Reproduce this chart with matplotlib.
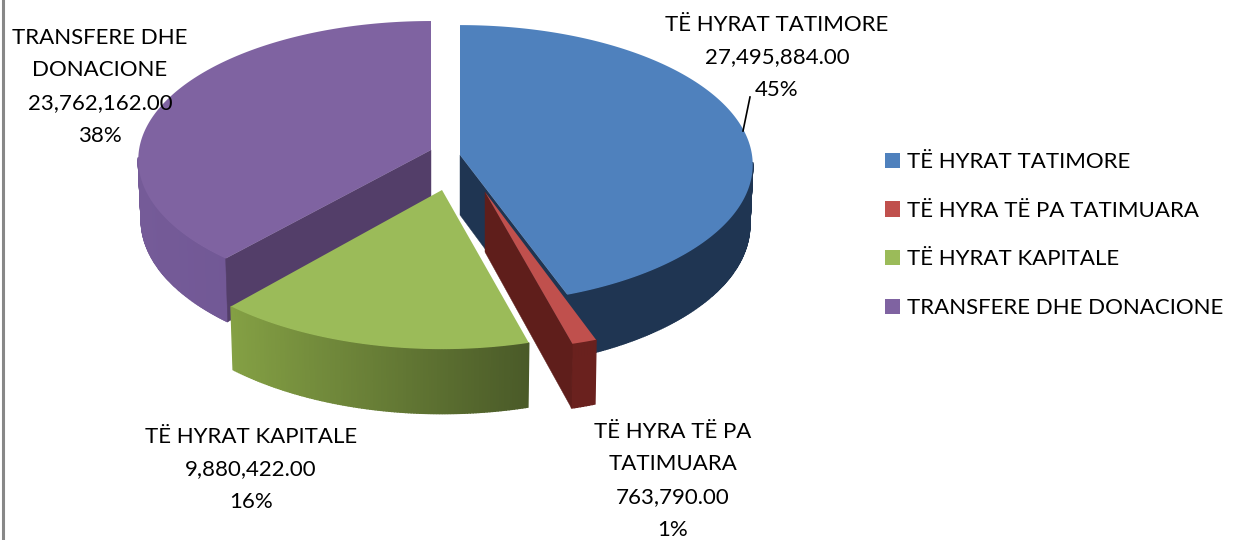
import numpy as np
import matplotlib
matplotlib.use("Agg")
import matplotlib.pyplot as plt
from matplotlib.colors import to_rgb
from matplotlib.patches import Patch

# --- DATA ---
categories = ["TË HYRAT TATIMORE", "TË HYRA TË PA TATIMUARA", "TË HYRAT KAPITALE", "TRANSFERE DHE DONACIONE"]
values = [27495884.00, 763790.00, 9880422.00, 23762162.00]
percent_labels = ["45%", "1%", "16%", "38%"]
wrapped_names = ["TË HYRAT TATIMORE", "TË HYRA TË PA\nTATIMUARA", "TË HYRAT KAPITALE", "TRANSFERE DHE\nDONACIONE"]

# --- LOOK OF THE SLICES (pixel space of the picture) ---
# apex x, apex y, radius x, radius y
geometry = [(460, 155, 292, 139), (485, 192, 302, 147), (442, 190, 300, 148), (431, 150, 292, 138)]
top_colors = ["#4f81bd", "#c0504d", "#9bbb59", "#7f63a1"]
rim_left = ["#1f3552", "#6a211e", "#84a044", "#755b98"]
rim_right = ["#1f3552", "#6a211e", "#4a5a28", "#6a5290"]
# which end of the slice shows its cut face, and in which colour
face_colors = ["#1f3552", "#5f1e1b", None, "#533e69"]
face_at_end = [True, True, False, False]
label_centers = [(777, 25), (673, 432), (251, 437), (100, 38)]
LINE_STEP = 32.5
FONT = "Lato"
FONT_SIZE = 16

PERSP = 0.07   # the front of the disc is nearer to the viewer
DEPTH = 60     # thickness of the pie


def project(theta, slice_idx):
    # theta is in degrees, clockwise from 12 o'clock
    cx, cy, a, b = geometry[slice_idx]
    rad = np.radians(theta)
    u, v = np.sin(rad), -np.cos(rad)
    s = 1.0 / (1.0 - PERSP * v)
    return cx + a * u * s, cy + b * v * s, s


def lower(x, y, s, slice_idx):
    cx = geometry[slice_idx][0]
    return cx + (x - cx) * 0.99, y + DEPTH * s


def draw_slice(ax, idx, start, end):
    cx, cy = geometry[idx][:2]
    thetas = np.linspace(start, end, max(int(end - start), 2) * 2 + 1)
    xs, ys, ss = project(thetas, idx)

    # cut face of the slice (only when it looks at us)
    if face_colors[idx] is not None:
        k = -1 if face_at_end[idx] else 0
        bx, by = lower(xs[k], ys[k], ss[k], idx)
        ax.fill([cx, xs[k], bx, cx], [cy, ys[k], by, cy + DEPTH], color=face_colors[idx], lw=0.3, zorder=idx_order[idx] + 0.2)

    # outer rim, shaded from left to right; thick edges hide the seams
    x_lo, x_hi = xs.min(), xs.max()
    c_left, c_right = np.array(to_rgb(rim_left[idx])), np.array(to_rgb(rim_right[idx]))
    bxs, bys = lower(xs, ys, ss, idx)
    for i in range(len(thetas) - 1):
        # the back half of the rim can't be seen
        if ys[i] < cy + 8 and ys[i + 1] < cy + 8:
            continue
        t = (xs[i] - x_lo) / max(x_hi - x_lo, 1)
        ax.fill([xs[i], xs[i + 1], bxs[i + 1], bxs[i]], [ys[i], ys[i + 1], bys[i + 1], bys[i]],
                color=c_left + (c_right - c_left) * t, lw=1.0, zorder=idx_order[idx])

    # top of the slice
    ax.fill(np.r_[cx, xs], np.r_[cy, ys], color=top_colors[idx], lw=0, zorder=idx_order[idx] + 0.5)


fig = plt.figure(figsize=(12.43, 5.40), dpi=100)
ax = fig.add_axes([0, 0, 1, 1])
ax.set_xlim(0, 1243)
ax.set_ylim(540, 0)
ax.axis("off")

# purple at the back, green at the very front
idx_order = [2, 3, 4, 1]
edges = np.r_[0, np.cumsum(values)] / np.sum(values) * 360
for i in range(len(values)):
    draw_slice(ax, i, edges[i], edges[i + 1])

# data labels
for i, name in enumerate(wrapped_names):
    txt = f"{name}\n{values[i]:,.2f}\n{percent_labels[i]}"
    x, y = label_centers[i]
    for j, line in enumerate(txt.split("\n")):
        ax.text(x, y + j * LINE_STEP, line, ha="center", va="center", family=FONT, fontsize=FONT_SIZE, color="black", zorder=10)

# leader line of the blue slice
ax.plot([743, 750], [131, 97], color="black", lw=1.2, zorder=10)

# legend
handles = [Patch(facecolor=c, edgecolor="none", label=n) for c, n in zip(top_colors, categories)]
ax.legend(handles=handles, loc="center left", bbox_to_anchor=(876, 235), bbox_transform=ax.transData,
          frameon=False, prop={"family": FONT, "size": FONT_SIZE}, handlelength=0.68, handleheight=0.68,
          handletextpad=0.3, labelspacing=1.29, borderpad=0, borderaxespad=0.4)

# grey frame on the left
ax.plot([3.5, 3.5], [0, 540], color="#888888", lw=2.2, zorder=11)

fig.savefig("out.png", dpi=100)
